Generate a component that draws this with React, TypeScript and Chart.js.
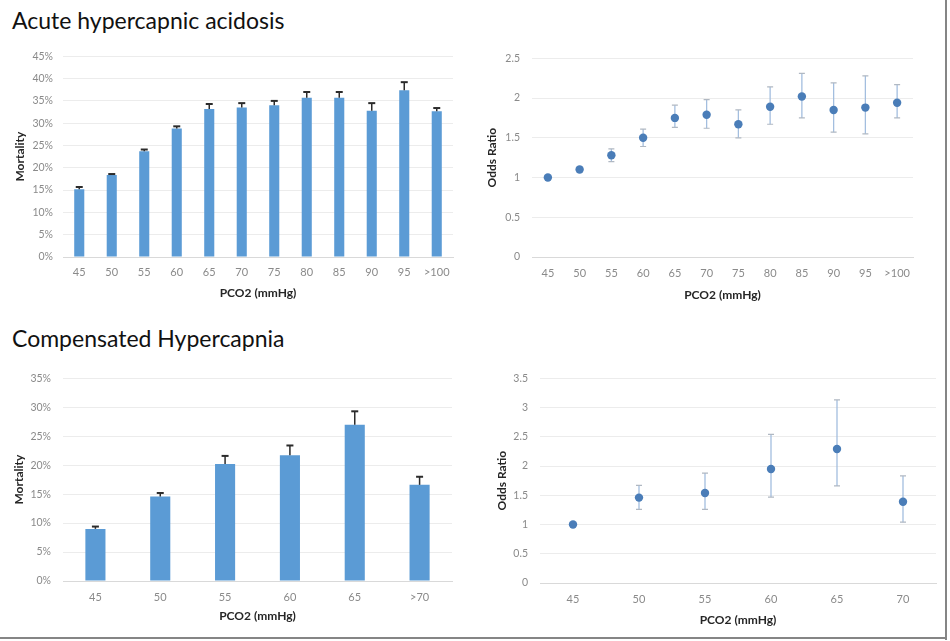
import React, { useEffect, useRef } from "react";
import { Chart, registerables } from "chart.js";

Chart.register(...registerables);

// ---------- Data ----------
const acuteCategories = ["45", "50", "55", "60", "65", "70", "75", "80", "85", "90", "95", ">100"];
const acuteMortality = [15.2, 18.4, 23.7, 28.8, 33.2, 33.5, 34.0, 35.7, 35.7, 32.8, 37.4, 32.7];
const acuteMortalityUpper = [15.7, 18.6, 24.1, 29.3, 34.3, 34.5, 35.0, 37.0, 37.0, 34.5, 39.2, 33.4];

const acuteOR = [1.0, 1.1, 1.28, 1.5, 1.75, 1.79, 1.67, 1.89, 2.02, 1.85, 1.88, 1.94];
const acuteORLow = [null, 1.07, 1.2, 1.39, 1.63, 1.62, 1.5, 1.67, 1.75, 1.57, 1.55, 1.75];
const acuteORHigh = [null, 1.13, 1.36, 1.61, 1.91, 1.98, 1.85, 2.14, 2.31, 2.19, 2.28, 2.17];

const compCategories = ["45", "50", "55", "60", "65", ">70"];
const compMortality = [9.0, 14.6, 20.2, 21.7, 27.0, 16.6];
const compMortalityUpper = [9.4, 15.2, 21.6, 23.4, 29.3, 18.0];

const compORCategories = ["45", "50", "55", "60", "65", "70"];
const compOR = [1.0, 1.46, 1.54, 1.95, 2.29, 1.39];
const compORLow = [null, 1.26, 1.26, 1.47, 1.66, 1.04];
const compORHigh = [null, 1.67, 1.88, 2.54, 3.13, 1.83];

const titleTop = "Acute hypercapnic acidosis";
const titleBottom = "Compensated Hypercapnia";
const xTitle = "PCO2 (mmHg)";
const yTitleMortality = "Mortality";
const yTitleOR = "Odds Ratio";

// ---------- Styles ----------
const FONT = "Lato, 'Open Sans', 'DejaVu Sans', sans-serif";
const BAR_COLOR = "#5b9bd5";
const DOT_COLOR = "#4a7db8";
const TICK_COLOR = "#8a8a8a";
const GRID_COLOR = "#ececec";
const TITLE_COLOR = "#262626";

Chart.defaults.font.family = FONT;

const errorBarPlugin = {
  id: "errorBars",
  afterDatasetsDraw(chart: any) {
    const ctx = chart.ctx;
    const yScale = chart.scales.y;
    chart.data.datasets.forEach((ds: any, di: number) => {
      if (!ds.errHigh) return;
      const meta = chart.getDatasetMeta(di);
      meta.data.forEach((el: any, i: number) => {
        const hi = ds.errHigh[i];
        if (hi == null) return;
        const lo = ds.errLow ? ds.errLow[i] : ds.data[i];
        if (lo == null) return;
        const x = el.x;
        const yHi = yScale.getPixelForValue(hi);
        const yLo = yScale.getPixelForValue(lo);
        ctx.save();
        ctx.strokeStyle = ds.errColor;
        ctx.lineWidth = ds.errWidth;
        ctx.beginPath();
        ctx.moveTo(x, yLo);
        ctx.lineTo(x, yHi);
        ctx.stroke();
        ctx.strokeStyle = ds.capColor || ds.errColor;
        ctx.lineWidth = ds.capWidth || ds.errWidth;
        const c = ds.capHalf;
        ctx.beginPath();
        ctx.moveTo(x - c, yHi);
        ctx.lineTo(x + c, yHi);
        if (ds.errLow) {
          ctx.moveTo(x - c, yLo);
          ctx.lineTo(x + c, yLo);
        }
        ctx.stroke();
        ctx.restore();
      });
    });
  },
};

type Geo = {
  yWidth: number;
  xHeight: number;
  padTop: number;
  padRight: number;
  yTickPad: number;
  yTitlePad: number;
  xTickPad: number;
  xTitlePad: number;
};

function makeScales(g: Geo, yMax: number, yStep: number, percent: boolean, yTitle: string) {
  return {
    x: {
      type: "category" as const,
      offset: true,
      grid: { display: false, drawTicks: false },
      border: { display: true, color: "#d9d9d9", width: 1 },
      ticks: { color: TICK_COLOR, font: { size: 11 }, padding: g.xTickPad, maxRotation: 0, autoSkip: false },
      title: {
        display: true,
        text: xTitle,
        color: TITLE_COLOR,
        font: { size: 12, weight: "bold" as const },
        padding: { top: 0, bottom: g.xTitlePad },
      },
      afterFit: (s: any) => {
        s.height = g.xHeight;
      },
    },
    y: {
      min: 0,
      max: yMax,
      grid: { color: GRID_COLOR, drawTicks: false, lineWidth: 1 },
      border: { display: false },
      ticks: {
        stepSize: yStep,
        color: TICK_COLOR,
        font: { size: 10.5 },
        padding: g.yTickPad,
        callback: (v: any) => (percent ? `${v}%` : `${Math.round(v * 10) / 10}`),
      },
      title: {
        display: true,
        text: yTitle,
        color: TITLE_COLOR,
        font: { size: 12, weight: "bold" as const },
        padding: { top: g.yTitlePad, bottom: 0 },
      },
      afterFit: (s: any) => {
        s.width = g.yWidth;
      },
    },
  };
}

function barConfig(labels: string[], values: number[], upper: number[], g: Geo, yMax: number, yStep: number) {
  return {
    type: "bar",
    data: {
      labels,
      datasets: [
        {
          data: values,
          backgroundColor: BAR_COLOR,
          borderWidth: 0,
          barPercentage: 0.31,
          categoryPercentage: 1,
          errHigh: upper,
          errColor: "#2b2b2b",
          errWidth: 1.5,
          capWidth: 2,
          capHalf: 3.5,
        },
      ],
    },
    options: {
      responsive: false,
      animation: false,
      layout: { padding: { top: g.padTop, right: g.padRight, left: 0, bottom: 0 } },
      plugins: { legend: { display: false }, tooltip: { enabled: false } },
      scales: makeScales(g, yMax, yStep, true, yTitleMortality),
    },
    plugins: [errorBarPlugin],
  };
}

function dotConfig(labels: string[], values: number[], low: (number | null)[], high: (number | null)[], g: Geo, yMax: number) {
  return {
    type: "line",
    data: {
      labels,
      datasets: [
        {
          data: values,
          showLine: false,
          pointRadius: 4.2,
          pointBackgroundColor: DOT_COLOR,
          pointBorderWidth: 0,
          errHigh: high,
          errLow: low,
          errColor: "#a3bedf",
          errWidth: 1.3,
          capColor: "#b0b8c2",
          capWidth: 1.2,
          capHalf: 3,
        },
      ],
    },
    options: {
      responsive: false,
      animation: false,
      layout: { padding: { top: g.padTop, right: g.padRight, left: 0, bottom: 0 } },
      plugins: { legend: { display: false }, tooltip: { enabled: false } },
      scales: makeScales(g, yMax, 0.5, false, yTitleOR),
    },
    plugins: [
      {
        id: "errBehind",
        beforeDatasetsDraw(chart: any) {
          errorBarPlugin.afterDatasetsDraw(chart);
        },
      },
    ],
  };
}

function ChartBox({ config, left, top, width, height }: any) {
  const ref = useRef<HTMLCanvasElement>(null);
  useEffect(() => {
    if (!ref.current) return;
    const chart = new Chart(ref.current, config);
    return () => chart.destroy();
  }, []);
  return (
    <canvas
      ref={ref}
      width={width}
      height={height}
      style={{ position: "absolute", left, top, width, height }}
    />
  );
}

const geoTL: Geo = { yWidth: 63, xHeight: 53, padTop: 10, padRight: 22, yTickPad: 10, yTitlePad: 12.8, xTickPad: 8.4, xTitlePad: 9.8 };
const geoTR: Geo = { yWidth: 57, xHeight: 53, padTop: 10, padRight: 32, yTickPad: 12, yTitlePad: 9.8, xTickPad: 9.4, xTitlePad: 7.8 };
const geoBL: Geo = { yWidth: 63, xHeight: 54, padTop: 16, padRight: 23, yTickPad: 12, yTitlePad: 11.8, xTickPad: 9.4, xTitlePad: 11.8 };
const geoBR: Geo = { yWidth: 65, xHeight: 52, padTop: 16, padRight: 9, yTickPad: 12, yTitlePad: 19.8, xTickPad: 9.4, xTitlePad: 7.8 };

export default function App() {
  useEffect(() => {
    document.body.style.margin = "0";
  }, []);
  const titleStyle: React.CSSProperties = {
    position: "absolute",
    left: 12,
    fontFamily: FONT,
    fontSize: 23,
    lineHeight: "27.6px",
    color: "#111",
    whiteSpace: "nowrap",
    margin: 0,
  };
  return (
    <div style={{ position: "fixed", left: 0, top: 0, width: 950, height: 641, background: "#fff", overflow: "hidden" }}>
      <div style={{ ...titleStyle, top: 7 }}>{titleTop}</div>
      <div style={{ ...titleStyle, top: 325 }}>{titleBottom}</div>
      <ChartBox config={barConfig(acuteCategories, acuteMortality, acuteMortalityUpper, geoTL, 45, 5)} left={0} top={40} width={475} height={270} />
      <ChartBox config={dotConfig(acuteCategories, acuteOR, acuteORLow, acuteORHigh, geoTR, 2.5)} left={475} top={40} width={470} height={270} />
      <ChartBox config={barConfig(compCategories, compMortality, compMortalityUpper, geoBL, 35, 5)} left={0} top={360} width={475} height={275} />
      <ChartBox config={dotConfig(compORCategories, compOR, compORLow, compORHigh, geoBR, 3.5)} left={475} top={360} width={470} height={275} />
      <div style={{ position: "absolute", left: 945, top: 0, width: 2, height: 640, background: "#858585" }} />
      <div style={{ position: "absolute", left: 0, top: 637, width: 947, height: 2, background: "#858585" }} />
    </div>
  );
}
